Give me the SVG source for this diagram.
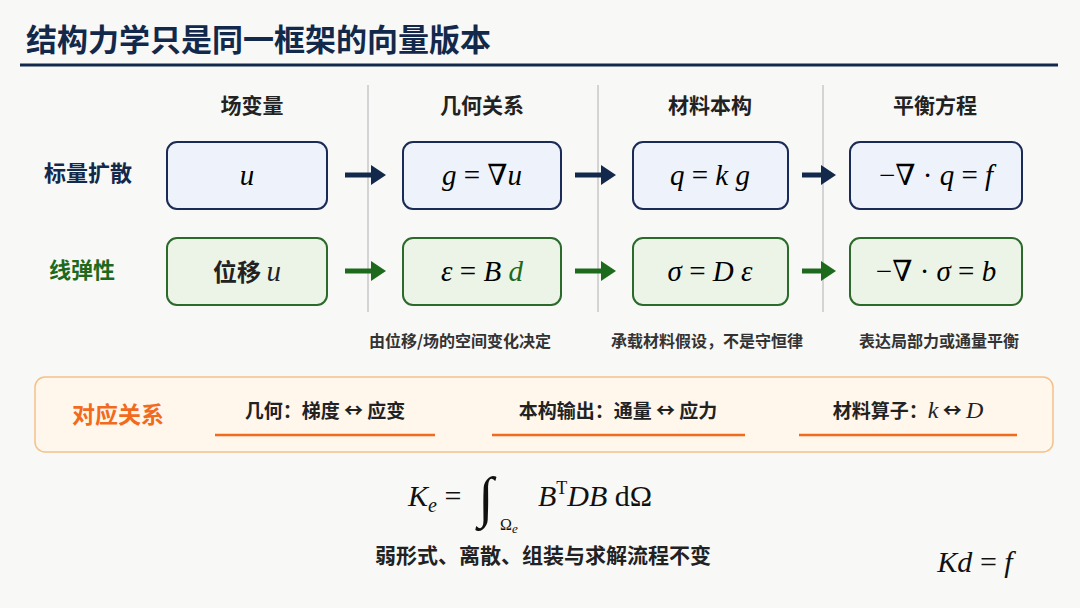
<svg xmlns="http://www.w3.org/2000/svg" width="1080" height="608" viewBox="0 0 1080 608">
<style>
.cn{font-family:"Noto Sans CJK SC","Noto Sans",sans-serif;font-weight:bold}
.m{font-family:"Liberation Serif","DejaVu Serif",serif;font-style:italic}
.r{font-family:"Liberation Serif","DejaVu Serif",serif}
.b1{fill:#eef2fa;stroke:#1a2b55;stroke-width:2}
.b2{fill:#ebf4e7;stroke:#2b6a2b;stroke-width:2}
.sep{stroke:#c8c8c8;stroke-width:1.5}
.a1{stroke:#13294b;stroke-width:5;marker-end:url(#h1)}
.a2{stroke:#1d6a1d;stroke-width:5;marker-end:url(#h2)}
.ul{stroke:#f26a1b;stroke-width:2.5}
</style>
<defs>
<marker id="h1" markerWidth="4" markerHeight="4" refX="1" refY="2" orient="auto" markerUnits="strokeWidth"><path d="M0,0L3,2L0,4z" fill="#13294b"/></marker>
<marker id="h2" markerWidth="4" markerHeight="4" refX="1" refY="2" orient="auto" markerUnits="strokeWidth"><path d="M0,0L3,2L0,4z" fill="#1d6a1d"/></marker>
</defs>
<rect width="1080" height="608" fill="#f8f8f6"/>
<text x="26" y="51" class="cn" font-size="31" fill="#13294b">结构力学只是同一框架的向量版本</text>
<line x1="20" y1="65" x2="1058" y2="65" stroke="#13294b" stroke-width="3"/>
<g class="cn" font-size="21" fill="#222" text-anchor="middle">
<text x="252" y="113">场变量</text><text x="482" y="113">几何关系</text><text x="710" y="113">材料本构</text><text x="935" y="113">平衡方程</text>
</g>
<line class="sep" x1="368" y1="85" x2="368" y2="312"/><line class="sep" x1="598" y1="85" x2="598" y2="312"/><line class="sep" x1="823" y1="85" x2="823" y2="312"/>
<text x="88" y="181" class="cn" font-size="22" fill="#13294b" text-anchor="middle">标量扩散</text>
<text x="82" y="278" class="cn" font-size="22" fill="#1d6a1d" text-anchor="middle">线弹性</text>
<g id="n1"><rect class="b1" x="167" y="142" width="160" height="67" rx="10"/><text x="247" y="185" class="m" font-size="29" text-anchor="middle">u</text></g>
<g id="n2"><rect class="b1" x="403" y="142" width="158" height="67" rx="10"/><text x="482" y="185" class="r" font-size="29" text-anchor="middle"><tspan class="m">g</tspan> = ∇<tspan class="m">u</tspan></text></g>
<g id="n3"><rect class="b1" x="633" y="142" width="155" height="67" rx="10"/><text x="710" y="185" class="r" font-size="29" text-anchor="middle"><tspan class="m">q</tspan> = <tspan class="m">k g</tspan></text></g>
<g id="n4"><rect class="b1" x="850" y="142" width="172" height="67" rx="10"/><text x="936" y="185" class="r" font-size="29" text-anchor="middle">−∇ · <tspan class="m">q</tspan> = <tspan class="m">f</tspan></text></g>
<g id="n5"><rect class="b2" x="167" y="238" width="160" height="67" rx="10"/><text x="247" y="281" font-size="24" text-anchor="middle" fill="#222"><tspan class="cn">位移 </tspan><tspan class="m" font-size="29">u</tspan></text></g>
<g id="n6"><rect class="b2" x="403" y="238" width="158" height="67" rx="10"/><text x="482" y="281" class="r" font-size="29" text-anchor="middle"><tspan class="m">ε</tspan> = <tspan class="m">B</tspan> <tspan class="m" fill="#1d6a1d">d</tspan></text></g>
<g id="n7"><rect class="b2" x="633" y="238" width="155" height="67" rx="10"/><text x="710" y="281" class="r" font-size="29" text-anchor="middle"><tspan class="m">σ</tspan> = <tspan class="m">D ε</tspan></text></g>
<g id="n8"><rect class="b2" x="850" y="238" width="172" height="67" rx="10"/><text x="936" y="281" class="r" font-size="29" text-anchor="middle">−∇ · <tspan class="m">σ</tspan> = <tspan class="m">b</tspan></text></g>
<g id="connectors">
<line class="a1" x1="345" y1="175" x2="376" y2="175"/><line class="a1" x1="575" y1="175" x2="606" y2="175"/><line class="a1" x1="802" y1="175" x2="826" y2="175"/>
<line class="a2" x1="345" y1="271" x2="376" y2="271"/><line class="a2" x1="575" y1="271" x2="606" y2="271"/><line class="a2" x1="802" y1="271" x2="826" y2="271"/>
</g>
<g class="cn" font-size="16" fill="#333" text-anchor="middle">
<text x="460" y="347">由位移/场的空间变化决定</text><text x="707" y="347">承载材料假设，不是守恒律</text><text x="939" y="347">表达局部力或通量平衡</text>
</g>
<g id="corr">
<rect x="35" y="377" width="1018" height="75" rx="10" fill="#fff6ec" stroke="#f5c08a" stroke-width="1.5"/>
<text x="118" y="423" class="cn" font-size="23" fill="#f26a1b" text-anchor="middle">对应关系</text>
<text x="325" y="418" class="cn" font-size="19" fill="#222" text-anchor="middle">几何：梯度 ↔ 应变</text>
<text x="618" y="418" class="cn" font-size="19" fill="#222" text-anchor="middle">本构输出：通量 ↔ 应力</text>
<text x="908" y="418" font-size="19" fill="#222" text-anchor="middle"><tspan class="cn">材料算子：</tspan><tspan class="m" font-size="24">k</tspan><tspan class="cn"> ↔ </tspan><tspan class="m" font-size="24">D</tspan></text>
<line class="ul" x1="215" y1="435" x2="435" y2="435"/><line class="ul" x1="492" y1="435" x2="745" y2="435"/><line class="ul" x1="799" y1="435" x2="1017" y2="435"/>
</g>
<text x="408" y="506" class="r" font-size="30" fill="#111"><tspan class="m">K</tspan><tspan class="m" font-size="20" dy="6">e</tspan><tspan dy="-6"> =</tspan></text>
<text x="478" y="516" class="r" font-size="56" fill="#111">∫</text>
<text x="500" y="530" class="r" font-size="16" fill="#111">Ω<tspan class="m" font-size="13" dy="3">e</tspan></text>
<text x="538" y="506" class="r" font-size="30" fill="#111"><tspan class="m">B</tspan><tspan font-size="18" dy="-12">T</tspan><tspan class="m" dy="12">DB</tspan> dΩ</text>
<text x="543" y="563" class="cn" font-size="21" fill="#222" text-anchor="middle">弱形式、离散、组装与求解流程不变</text>
<text x="975" y="572" class="r" font-size="30" fill="#111" text-anchor="middle"><tspan class="m">Kd</tspan> = <tspan class="m">f</tspan></text>
</svg>
